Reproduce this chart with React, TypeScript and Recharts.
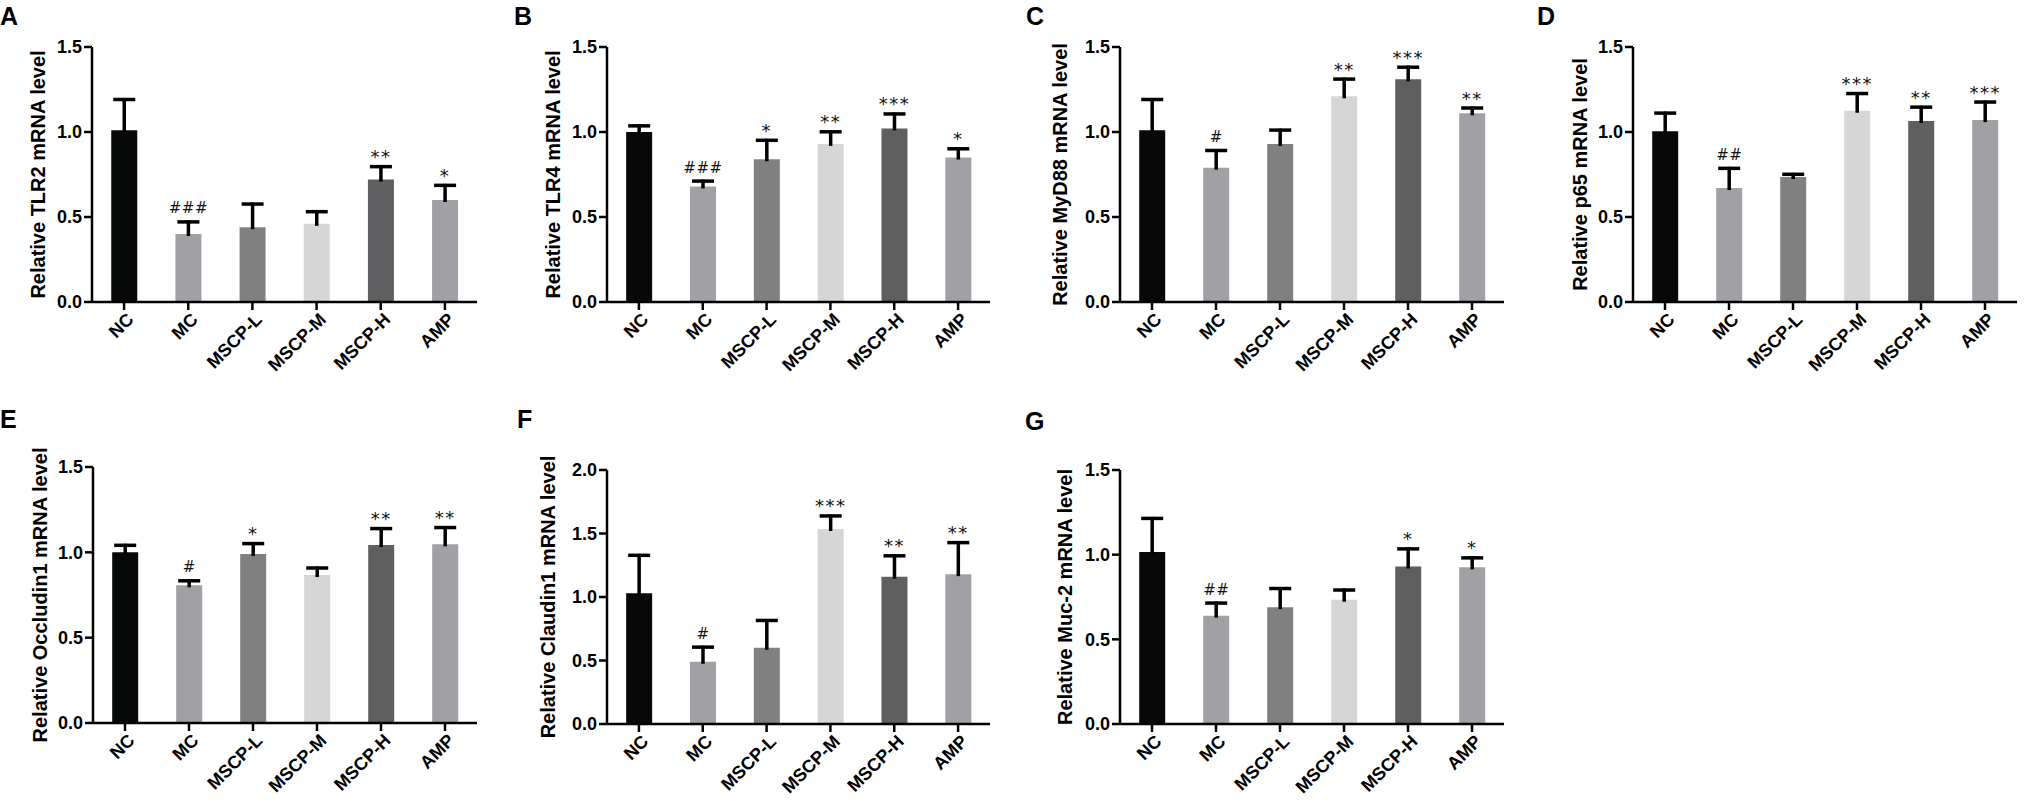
import React from "react";
import { BarChart, Bar, XAxis, YAxis, Cell, LabelList, Label } from "recharts";

const FONT = '"Liberation Sans", Arial, Helvetica, sans-serif';
const MARK_FONT = '"DejaVu Sans", sans-serif';

const groups = ["NC", "MC", "MSCP-L", "MSCP-M", "MSCP-H", "AMP"];
const barColors = ["#070808", "#a1a0a5", "#7f807f", "#d6d6d6", "#5f5f61", "#a1a0a5"];

const ticks15 = [0, 0.5, 1.0, 1.5];
const ticks20 = [0, 0.5, 1.0, 1.5, 2.0];

// A - TLR2
const tlr2Mean = [1.01, 0.4, 0.44, 0.46, 0.72, 0.6];
const tlr2Sem = [0.19, 0.08, 0.145, 0.08, 0.085, 0.095];
const tlr2Sig = ["", "###", "", "", "**", "*"];

// B - TLR4
const tlr4Mean = [1.0, 0.68, 0.84, 0.93, 1.02, 0.85];
const tlr4Sem = [0.045, 0.04, 0.12, 0.08, 0.095, 0.06];
const tlr4Sig = ["", "###", "*", "**", "***", "*"];

// C - MyD88
const myd88Mean = [1.01, 0.79, 0.93, 1.21, 1.31, 1.11];
const myd88Sem = [0.19, 0.11, 0.09, 0.11, 0.08, 0.04];
const myd88Sig = ["", "#", "", "**", "***", "**"];

// D - p65
const p65Mean = [1.005, 0.67, 0.735, 1.125, 1.065, 1.07];
const p65Sem = [0.115, 0.125, 0.025, 0.11, 0.09, 0.115];
const p65Sig = ["", "##", "", "***", "**", "***"];

// E - Occludin1
const occMean = [1.0, 0.807, 0.99, 0.867, 1.043, 1.047];
const occSem = [0.05, 0.035, 0.07, 0.05, 0.105, 0.107];
const occSig = ["", "#", "*", "", "**", "**"];

// F - Claudin1
const claMean = [1.03, 0.49, 0.6, 1.535, 1.16, 1.18];
const claSem = [0.31, 0.127, 0.227, 0.115, 0.176, 0.26];
const claSig = ["", "#", "", "***", "**", "**"];

// G - Muc-2
const mucMean = [1.016, 0.64, 0.69, 0.734, 0.93, 0.925];
const mucSem = [0.207, 0.083, 0.119, 0.066, 0.113, 0.065];
const mucSig = ["", "##", "", "", "*", "*"];

const buildRows = (mean: number[], sem: number[], sig: string[]) =>
  groups.map((g, i) => ({ group: g, mean: mean[i], sem: sem[i], sig: sig[i] }));

const panels = [
  { letter: "A", title: "Relative TLR2 mRNA level", rows: buildRows(tlr2Mean, tlr2Sem, tlr2Sig), ticks: ticks15,
    left: 92, top: 47, right: 477, bottom: 302, labelX: 16, letterX: 0, letterY: 4 },
  { letter: "B", title: "Relative TLR4 mRNA level", rows: buildRows(tlr4Mean, tlr4Sem, tlr4Sig), ticks: ticks15,
    left: 607, top: 47, right: 990, bottom: 302, labelX: 16, letterX: 514, letterY: 4 },
  { letter: "C", title: "Relative MyD88 mRNA level", rows: buildRows(myd88Mean, myd88Sem, myd88Sig), ticks: ticks15,
    left: 1120, top: 47, right: 1504, bottom: 302, labelX: 10, letterX: 1026, letterY: 4 },
  { letter: "D", title: "Relative p65 mRNA level", rows: buildRows(p65Mean, p65Sem, p65Sig), ticks: ticks15,
    left: 1633, top: 47, right: 2017, bottom: 302, labelX: 17, letterX: 1537, letterY: 4 },
  { letter: "E", title: "Relative Occludin1 mRNA level", rows: buildRows(occMean, occSem, occSig), ticks: ticks15,
    left: 93, top: 467, right: 477, bottom: 723, labelX: 17, letterX: 0, letterY: 407 },
  { letter: "F", title: "Relative Claudin1 mRNA level", rows: buildRows(claMean, claSem, claSig), ticks: ticks20,
    left: 607, top: 470, right: 990, bottom: 724, labelX: 11, letterX: 517, letterY: 407 },
  { letter: "G", title: "Relative Muc-2 mRNA level", rows: buildRows(mucMean, mucSem, mucSig), ticks: ticks15,
    left: 1120, top: 470, right: 1504, bottom: 724, labelX: 15, letterX: 1025, letterY: 409 },
];

const M_TOP = 40;
const Y_W = 70;
const X_H = 95;
const M_RIGHT = 6;

const ErrorWhisker = (props: any) => {
  const { x, y, width, height } = props;
  if (height == null || isNaN(height) || isNaN(y)) return null;
  const cx = x + width / 2;
  return (
    <g>
      <line x1={cx} x2={cx} y1={y + height + 2} y2={y} stroke="#000" strokeWidth={3.5} />
      <line x1={cx - 11} x2={cx + 11} y1={y + 1.5} y2={y + 1.5} stroke="#000" strokeWidth={3.5} />
    </g>
  );
};

const SigMark = (props: any) => {
  const { x, y, width, value } = props;
  if (!value) return null;
  const isHash = String(value).startsWith("#");
  return (
    <text
      x={x + width / 2}
      y={isHash ? y - 7 : y - 2}
      textAnchor="middle"
      fontFamily={MARK_FONT}
      fontSize={isHash ? 15 : 18}
      letterSpacing={isHash ? 0.5 : 1.5}
      fill="#111"
    >
      {value}
    </text>
  );
};

const GroupTick = (props: any) => {
  const { x, y, payload } = props;
  return (
    <g transform={`translate(${x},${y})`}>
      <text x={0} y={0} dy={15} dx={0} textAnchor="end" transform="rotate(-45)"
        fontSize={18} fontWeight={700} fontFamily={FONT} fill="#000">
        {payload.value}
      </text>
    </g>
  );
};

const Panel = ({ p }: { p: any }) => {
  const plotW = p.right - p.left;
  const plotH = p.bottom - p.top;
  const w = plotW + Y_W + M_RIGHT;
  const h = plotH + M_TOP + X_H;
  const max = p.ticks[p.ticks.length - 1];
  const lx = p.labelX;
  const ly = M_TOP + plotH / 2;
  return (
    <div style={{ position: "absolute", left: p.left - Y_W, top: p.top - M_TOP, width: w, height: h }}>
      <BarChart width={w} height={h} data={p.rows} margin={{ top: M_TOP, right: M_RIGHT, left: 0, bottom: 0 }}
        barCategoryGap="30%">
        <XAxis dataKey="group" interval={0} height={X_H} tickSize={8} tickMargin={0}
          tick={<GroupTick />}
          axisLine={{ stroke: "#000", strokeWidth: 2.5 }}
          tickLine={{ stroke: "#000", strokeWidth: 2.5 }} />
        <YAxis type="number" domain={[0, max]} ticks={p.ticks} width={Y_W} tickSize={8} tickMargin={2}
          allowDataOverflow
          tickFormatter={(v: number) => v.toFixed(1)}
          tick={{ fill: "#000", fontSize: 18, fontWeight: 700, fontFamily: FONT }}
          axisLine={{ stroke: "#000", strokeWidth: 2.5 }}
          tickLine={{ stroke: "#000", strokeWidth: 2.5 }}>
          <Label
            content={() => (
              <text x={lx} y={ly} transform={`rotate(-90 ${lx} ${ly})`} textAnchor="middle"
                dominantBaseline="central" fontSize={20} fontWeight={700} fontFamily={FONT} fill="#000">
                {p.title}
              </text>
            )}
          />
        </YAxis>
        <Bar dataKey="mean" stackId="s" isAnimationActive={false}>
          {p.rows.map((r: any, i: number) => (
            <Cell key={r.group} fill={barColors[i]} />
          ))}
        </Bar>
        <Bar dataKey="sem" stackId="s" isAnimationActive={false} shape={ErrorWhisker}>
          <LabelList dataKey="sig" content={SigMark} />
        </Bar>
      </BarChart>
    </div>
  );
};

export default function App() {
  return (
    <div style={{ position: "absolute", left: 0, top: 0, width: 2024, height: 809, background: "#fff", overflow: "hidden" }}>
      {panels.map((p) => (
        <React.Fragment key={p.letter}>
          <div style={{ position: "absolute", left: p.letterX, top: p.letterY, fontFamily: FONT, fontWeight: 700,
            fontSize: 25, lineHeight: 1, color: "#000" }}>
            {p.letter}
          </div>
          <Panel p={p} />
        </React.Fragment>
      ))}
    </div>
  );
}
